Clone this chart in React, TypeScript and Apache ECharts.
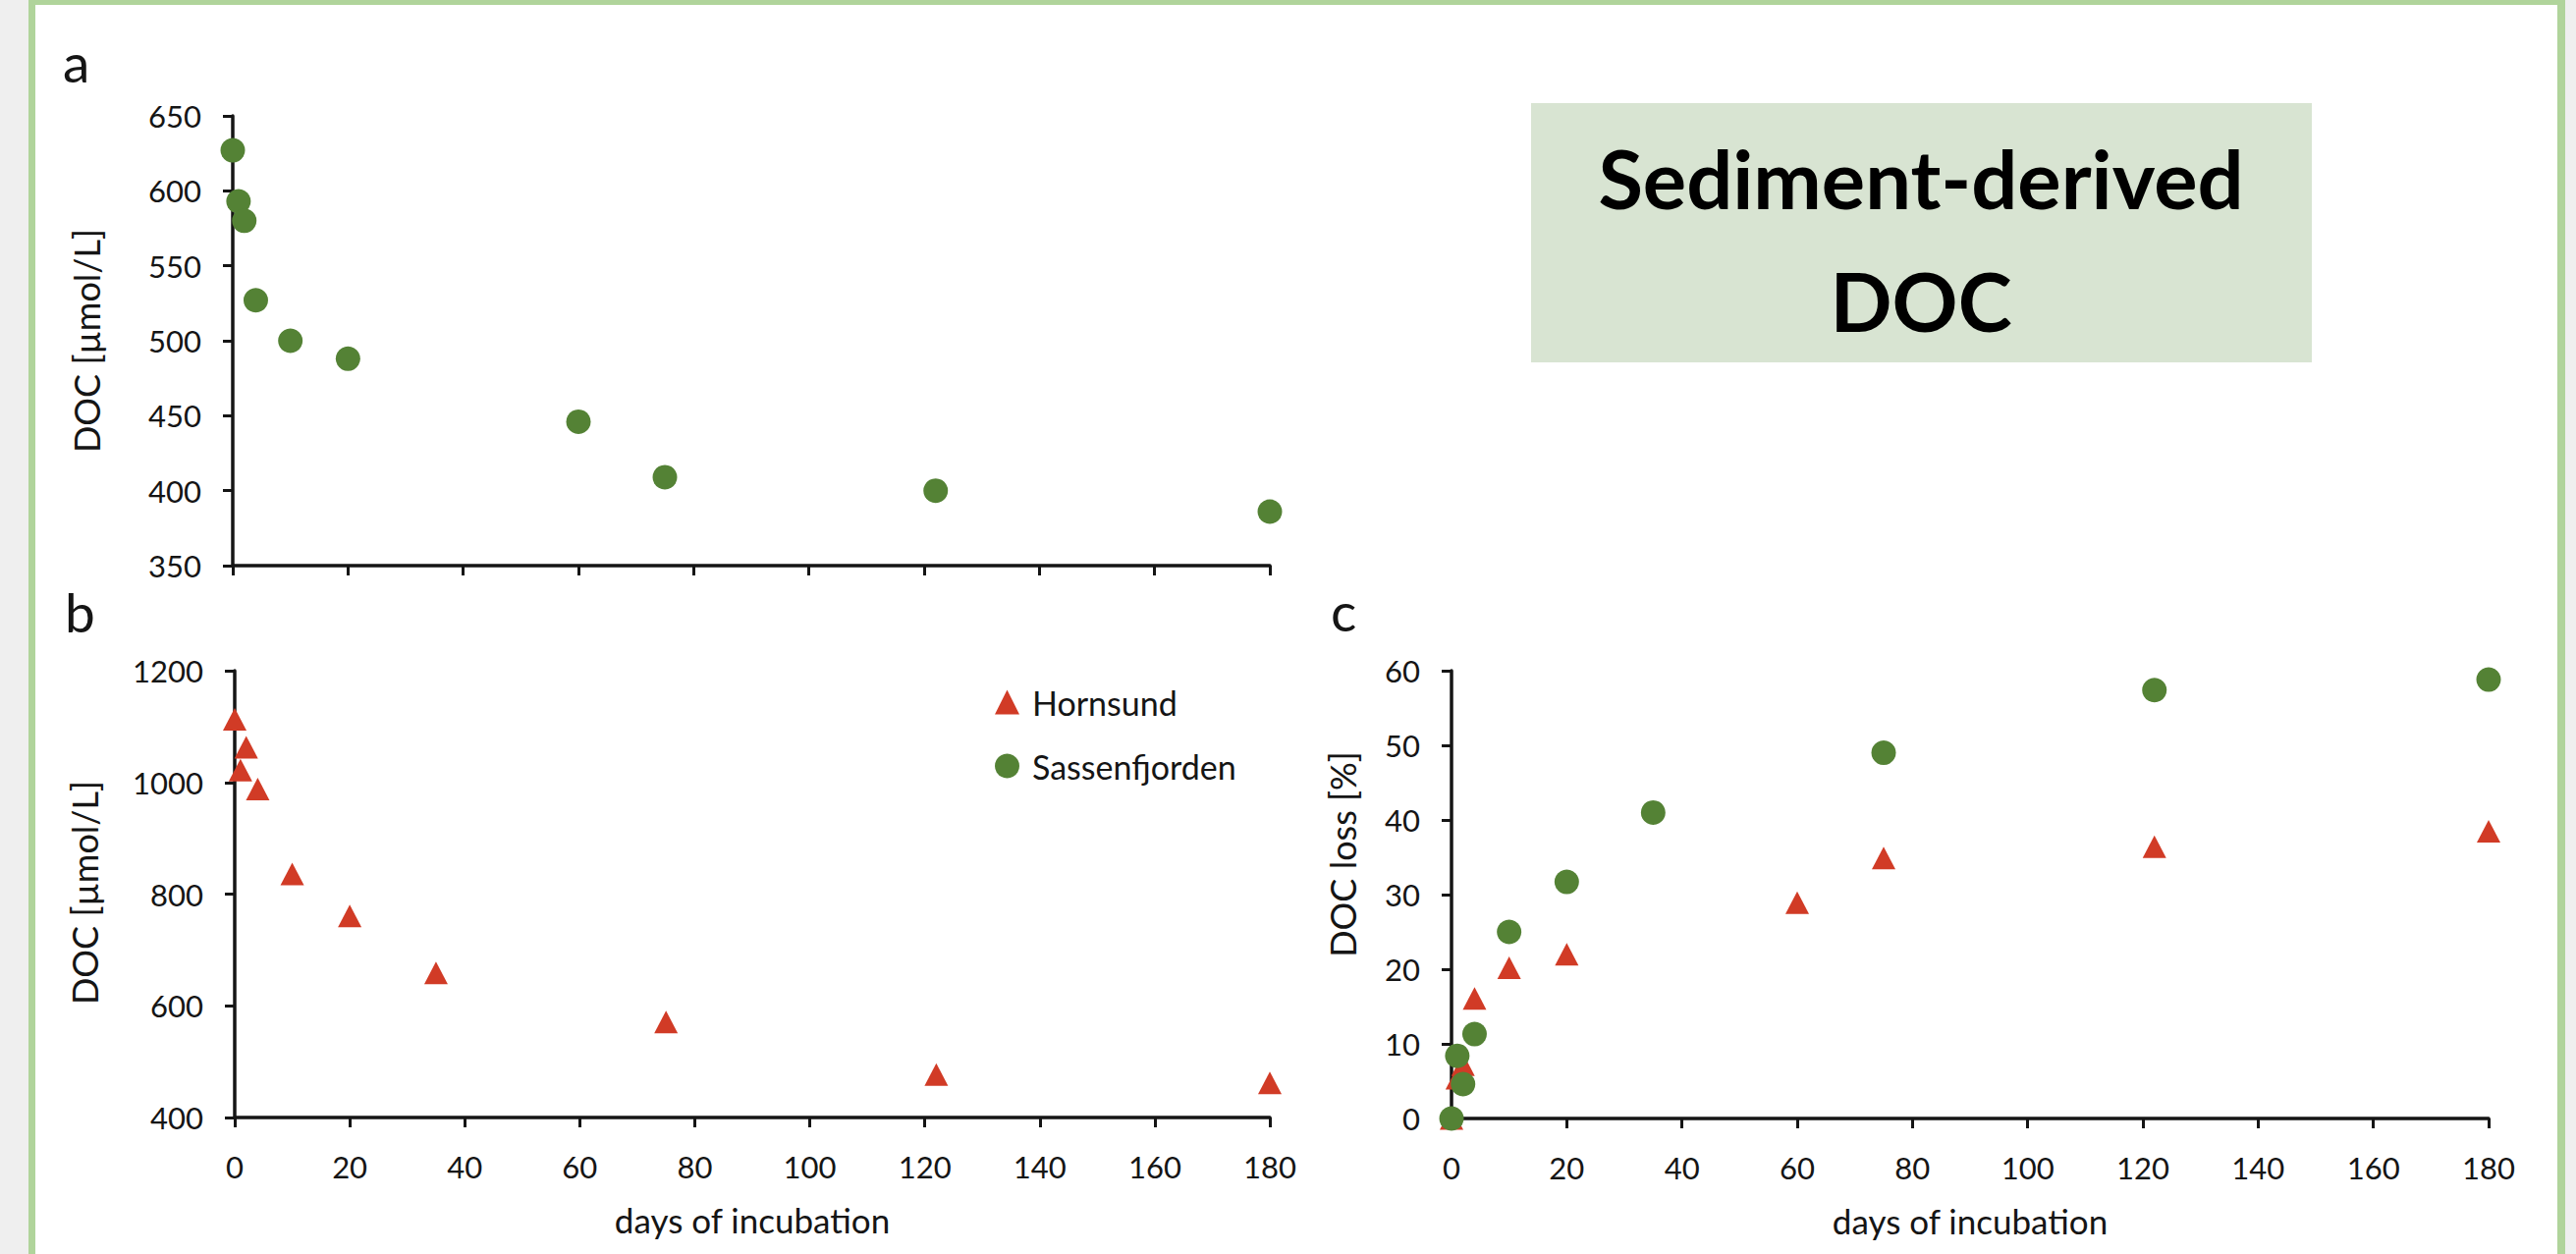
import React, { useEffect, useRef } from "react";
import * as echarts from "echarts";

// ---- data ----
const daysA = [0, 1, 2, 4, 10, 20, 60, 75, 122, 180];
const docA = [627, 593, 580, 527, 500, 488, 446, 409, 400, 386];

const daysB = [0, 1, 2, 4, 10, 20, 35, 75, 122, 180];
const docB = [1113, 1022, 1063, 988, 836, 761, 659, 571, 477, 462];

const daysLossTri = [0, 1, 2, 4, 10, 20, 60, 75, 122, 180];
const lossTri = [0, 5.4, 7.2, 16.1, 20.2, 22.0, 28.9, 34.9, 36.4, 38.5];

const daysLossCirc = [0, 1, 2, 4, 10, 20, 35, 75, 122, 180];
const lossCirc = [0, 8.4, 4.6, 11.3, 25.0, 31.7, 41.0, 49.0, 57.4, 58.8];

const seriesNames = ["Hornsund", "Sassenfjorden"];
const titleLines = ["Sediment-derived", "DOC"];
const panelLetters = ["a", "b", "c"];
const yNames = ["DOC [µmol/L]", "DOC [µmol/L]", "DOC loss [%]"];
const xName = "days of incubation";

const RED = "#d13b26";
const GREEN = "#548235";
const INK = "#151515";
const FONT = "Lato, 'Noto Sans', sans-serif";

const zip = (xs: number[], ys: number[]) => xs.map((x, i) => [x, ys[i]]);

export default function App() {
  const ref = useRef<HTMLDivElement>(null);
  useEffect(() => {
    if (!ref.current) return;
    const chart = echarts.init(ref.current, undefined, { renderer: "svg" });

    const axisLine = { show: true, lineStyle: { color: INK, width: 3.5 } };
    const axisTick = { show: true, inside: false, length: 10, lineStyle: { color: INK, width: 3 } };
    const axisLabel = {
      color: INK,
      fontSize: 31,
      fontFamily: FONT,
      formatter: (v: number) => String(v),
    };

    const xAxis = (gridIndex: number, showLabels: boolean) => ({
      type: "value",
      gridIndex,
      min: 0,
      max: 180,
      interval: 20,
      axisLine,
      axisTick,
      splitLine: { show: false },
      axisLabel: { ...axisLabel, show: showLabels, margin: 34 },
      name: showLabels ? xName : "",
      nameLocation: "middle",
      nameGap: 86,
      nameTextStyle: { color: INK, fontSize: 35, fontFamily: FONT },
    });
    const yAxis = (gridIndex: number, min: number, max: number, interval: number) => ({
      type: "value",
      gridIndex,
      min,
      max,
      interval,
      axisLine,
      axisTick,
      splitLine: { show: false },
      axisLabel: { ...axisLabel, margin: 32 },
    });

    const tri = { symbol: "triangle", symbolSize: [24, 23], itemStyle: { color: RED, opacity: 1 } };
    const circ = { symbol: "circle", symbolSize: 25, itemStyle: { color: GREEN, opacity: 1 } };

    const yNameText = (x: number, y: number, text: string) => ({
      type: "text",
      x,
      y,
      rotation: Math.PI / 2,
      style: { text, font: `36px ${FONT}`, fill: INK, align: "center", verticalAlign: "middle" },
    });
    const letter = (x: number, y: number, text: string) => ({
      type: "text",
      x,
      y,
      style: { text, font: `55px ${FONT}`, fill: INK, align: "left", verticalAlign: "middle" },
    });

    chart.setOption({
      animation: false,
      textStyle: { fontFamily: FONT },
      grid: [
        { left: 237, top: 118, width: 1056, height: 458 },
        { left: 239, top: 683, width: 1054, height: 455 },
        { left: 1478, top: 683, width: 1056, height: 456 },
      ],
      xAxis: [xAxis(0, false), xAxis(1, true), xAxis(2, true)],
      yAxis: [yAxis(0, 350, 650, 50), yAxis(1, 400, 1200, 200), yAxis(2, 0, 60, 10)],
      legend: {
        data: seriesNames,
        orient: "vertical",
        left: 1013,
        top: 698,
        padding: 0,
        itemGap: 31,
        itemWidth: 25,
        itemHeight: 25,
        selectedMode: false,
        textStyle: { color: INK, fontSize: 34, fontFamily: FONT, padding: [0, 0, 0, 8] },
      },
      series: [
        { type: "scatter", name: seriesNames[1], xAxisIndex: 0, yAxisIndex: 0, data: zip(daysA, docA), ...circ },
        { type: "scatter", name: seriesNames[0], xAxisIndex: 1, yAxisIndex: 1, data: zip(daysB, docB), ...tri },
        { type: "scatter", name: seriesNames[0], xAxisIndex: 2, yAxisIndex: 2, data: zip(daysLossTri, lossTri), ...tri },
        { type: "scatter", name: seriesNames[1], xAxisIndex: 2, yAxisIndex: 2, data: zip(daysLossCirc, lossCirc), ...circ },
      ],
      graphic: [
        { type: "rect", shape: { x: 1559, y: 105, width: 795, height: 264 }, style: { fill: "#d8e4d2" } },
        {
          type: "text",
          x: 1956,
          y: 181,
          style: { text: titleLines[0], font: `bold 83px ${FONT}`, fill: "#000", align: "center", verticalAlign: "middle" },
        },
        {
          type: "text",
          x: 1956,
          y: 306,
          style: { text: titleLines[1], font: `bold 83px ${FONT}`, fill: "#000", align: "center", verticalAlign: "middle" },
        },
        letter(64, 63, panelLetters[0]),
        letter(66, 623, panelLetters[1]),
        letter(1355, 622, panelLetters[2]),
        yNameText(88, 347, yNames[0]),
        yNameText(86, 909, yNames[1]),
        yNameText(1367, 870, yNames[2]),
      ],
    });
    return () => chart.dispose();
  }, []);

  return (
    <div style={{ position: "fixed", left: 0, top: 0, width: 2623, height: 1277, background: "#efefef" }}>
      <div
        style={{
          position: "absolute",
          left: 29,
          top: 0,
          width: 2583,
          height: 1277,
          boxSizing: "border-box",
          background: "#ffffff",
          borderLeft: "7px solid #b0d49b",
          borderRight: "8px solid #b0d49b",
          borderTop: "5px solid #b0d49b",
        }}
      />
      <div ref={ref} style={{ position: "absolute", left: 0, top: 0, width: 2623, height: 1277 }} />
    </div>
  );
}
